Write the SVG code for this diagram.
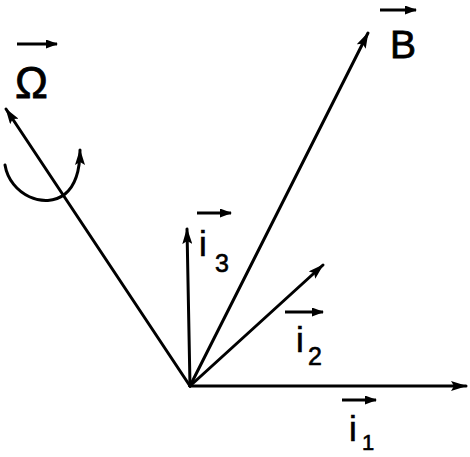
<svg xmlns="http://www.w3.org/2000/svg" width="470" height="457" viewBox="0 0 470 457">
<style>
.ln{stroke:#000;stroke-width:3;fill:none;stroke-linecap:round}
.sm{stroke:#000;stroke-width:3;fill:none}
.t{font-family:"Liberation Sans",Arial,sans-serif;fill:#000}
</style>
<defs>
<marker id="ah" markerWidth="16" markerHeight="10" refX="15" refY="5" orient="auto" markerUnits="userSpaceOnUse">
<path d="M0,0 L16,5 L0,10 L3,5 Z" fill="#000"/>
</marker>
<marker id="sh" markerWidth="12" markerHeight="9" refX="11" refY="4.5" orient="auto" markerUnits="userSpaceOnUse">
<path d="M0,0 L12,4.5 L0,9 Z" fill="#000"/>
</marker>
</defs>
<g id="connectors">
<line class="ln" x1="190" y1="386" x2="466" y2="386" marker-end="url(#ah)"/>
<line class="ln" x1="190" y1="386" x2="187" y2="229" marker-end="url(#ah)"/>
<line class="ln" x1="190" y1="386" x2="323" y2="265" marker-end="url(#ah)"/>
<line class="ln" x1="190" y1="386" x2="368" y2="33" marker-end="url(#ah)"/>
<line class="ln" x1="190" y1="386" x2="6" y2="109" marker-end="url(#ah)"/>
<path class="ln" d="M5,165 C10,195 45,210 65,194 C76,185 80,168 80,150" marker-end="url(#ah)"/>
</g>
<g id="B">
<line class="sm" x1="380" y1="10" x2="416" y2="10" marker-end="url(#sh)"/>
<text class="t" x="390" y="58" font-size="39" stroke="#000" stroke-width="0.8">B</text>
</g>
<g id="Omega">
<line class="sm" x1="17" y1="44" x2="57" y2="44" marker-end="url(#sh)"/>
<text class="t" x="15" y="98" font-size="44" stroke="#000" stroke-width="0.8">Ω</text>
</g>
<g id="i3">
<line class="sm" x1="197" y1="213" x2="231" y2="213" marker-end="url(#sh)"/>
<text class="t" x="199" y="256" font-size="35" stroke="#000" stroke-width="0.6">i</text>
<text class="t" x="215" y="272" font-size="25" stroke="#000" stroke-width="0.6">3</text>
</g>
<g id="i2">
<line class="sm" x1="285" y1="312" x2="323" y2="312" marker-end="url(#sh)"/>
<text class="t" x="296" y="352" font-size="35" stroke="#000" stroke-width="0.6">i</text>
<text class="t" x="308" y="365" font-size="25" stroke="#000" stroke-width="0.6">2</text>
</g>
<g id="i1">
<line class="sm" x1="342" y1="400" x2="376" y2="400" marker-end="url(#sh)"/>
<text class="t" x="349" y="441" font-size="35" stroke="#000" stroke-width="0.6">i</text>
<text class="t" x="362" y="450" font-size="22" stroke="#000" stroke-width="0.6">1</text>
</g>
</svg>
